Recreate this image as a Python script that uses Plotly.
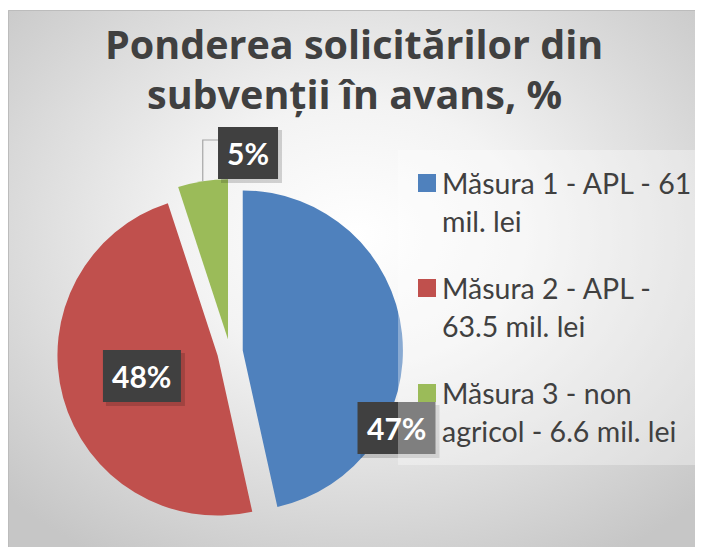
import base64
import math
import plotly.graph_objects as go

# ---------------- data ----------------
legend_lines = [["Măsura 1 - APL - 61", "mil. lei"],
                ["Măsura 2 - APL -", "63.5 mil. lei"],
                ["Măsura 3 - non", "agricol - 6.6 mil. lei"]]
categories = [" ".join(l) for l in legend_lines]
values = [61, 63.5, 6.6]
colors = ["#4F81BD", "#C0504D", "#9BBB59"]
title_lines = ["Ponderea solicitărilor din", "subvenții în avans, %"]

# ---------------- layout constants ----------------
OFF = 8                      # page body margin of the html page
W, H = 703 - OFF, 547 - OFF  # figure size so that it fits the window
PULL = 0.08
FONT = "Lato, 'Open Sans', sans-serif"
TFONT = "'Open Sans', Lato, sans-serif"
TXT = "#404040"

# label placement tweaks (angle offset in degrees, radius factor)
label_place = [(33, 1.075), (0, 0.49), (15.2, 1.17)]


def px(x):  # window pixel -> paper
    return (x - OFF) / W


def py(y):
    return 1 - (y - OFF) / H


DOM_X = [px(57), px(403)]
DOM_Y = [py(525), py(179)]

fig = go.Figure()
fig.add_trace(go.Pie(
    labels=categories, values=values, sort=False, direction="clockwise",
    rotation=0, pull=PULL, marker=dict(colors=colors, line=dict(width=0)),
    textinfo="none", hoverinfo="label+percent", showlegend=False,
    domain=dict(x=DOM_X, y=DOM_Y),
))

# geometry of the pie in window pixels (mirrors plotly's own computation)
cx = OFF + (DOM_X[0] + DOM_X[1]) / 2 * W
cy = OFF + (1 - (DOM_Y[0] + DOM_Y[1]) / 2) * H
R = min((DOM_X[1] - DOM_X[0]) * W, (DOM_Y[1] - DOM_Y[0]) * H) / 2 / (1 + PULL)
total = sum(values)

shapes = []
annotations = []

# background gradient
svg = (
    '<svg xmlns="http://www.w3.org/2000/svg" width="695" height="537" '
    'preserveAspectRatio="none" viewBox="0 0 695 537">'
    '<defs><radialGradient id="g" cx="50%" cy="42%" r="70%">'
    '<stop offset="0" stop-color="#ffffff"/>'
    '<stop offset="0.35" stop-color="#f3f3f3"/>'
    '<stop offset="1" stop-color="#c6c6c6"/>'
    '</radialGradient></defs>'
    '<rect width="695" height="537" fill="url(#g)"/></svg>'
)
src = "data:image/svg+xml;base64," + base64.b64encode(svg.encode()).decode()
images = [dict(source=src, xref="paper", yref="paper", x=px(8), y=py(10),
               sizex=px(703) - px(8), sizey=py(10) - py(547),
               xanchor="left", yanchor="top", sizing="stretch", layer="below")]

shapes.append(dict(type="rect", xref="paper", yref="paper",
                   x0=px(8.5), x1=px(710), y0=py(10.5), y1=py(560),
                   line=dict(color="#bcbcbc", width=1), fillcolor="rgba(0,0,0,0)",
                   layer="below"))

# title lines
for k, t in enumerate(title_lines):
    annotations.append(dict(x=px(354), y=py(44 + 50 * k), xref="paper", yref="paper",
                            text=t, showarrow=False, xanchor="center", yanchor="middle",
                            font=dict(family=TFONT, size=39.5, color=TXT, weight="bold")))

# data labels
cum = 0
for i, v in enumerate(values):
    a0 = cum / total * 360
    cum += v
    a1 = cum / total * 360
    mid = (a0 + a1) / 2
    scx = cx + PULL * R * math.sin(math.radians(mid))
    scy = cy - PULL * R * math.cos(math.radians(mid))
    off, fac = label_place[i]
    ang = math.radians(mid + off)
    lx = scx + fac * R * math.sin(ang)
    ly = scy - fac * R * math.cos(ang)
    txt = f"{round(v / total * 100)}%"
    bw = 18 * len(txt) + 24
    bh = 52
    # shadow
    shapes.append(dict(type="rect", xref="paper", yref="paper",
                       x0=px(lx - bw / 2 + 3), x1=px(lx + bw / 2 + 4),
                       y0=py(ly + bh / 2 + 4), y1=py(ly - bh / 2 + 3),
                       line=dict(width=0), fillcolor="rgba(0,0,0,0.16)", layer="above"))
    shapes.append(dict(type="rect", xref="paper", yref="paper",
                       x0=px(lx - bw / 2), x1=px(lx + bw / 2),
                       y0=py(ly + bh / 2), y1=py(ly - bh / 2),
                       line=dict(width=0), fillcolor="#404040", layer="above"))
    annotations.append(dict(x=px(lx), y=py(ly), xref="paper", yref="paper",
                            text=txt, showarrow=False, xanchor="center", yanchor="middle",
                            font=dict(family=FONT, size=30, color="white", weight="bold")))
    if fac > 1.1:  # outside label -> leader line
        ax = scx + R * math.sin(math.radians(mid))
        ay = scy - R * math.cos(math.radians(mid))
        ytop = ly - bh / 2 + 13
        shapes.append(dict(type="path", xref="paper", yref="paper",
                           path=f"M{px(ax)},{py(ay)} L{px(ax)},{py(ytop)} L{px(lx - bw / 2)},{py(ytop)}",
                           line=dict(color="#a6a6a6", width=1.2), layer="above"))

# legend box (semi-transparent, above the labels)
shapes.append(dict(type="rect", xref="paper", yref="paper",
                   x0=px(398), x1=px(720), y0=py(465), y1=py(150),
                   line=dict(width=0), fillcolor="rgba(255,255,255,0.33)", layer="above"))

# legend items
y0, step, lstep = 183, 105, 38
for i, lines in enumerate(legend_lines):
    yc = y0 + i * step
    shapes.append(dict(type="rect", xref="paper", yref="paper",
                       x0=px(418), x1=px(436), y0=py(yc + 9), y1=py(yc - 9),
                       line=dict(width=0), fillcolor=colors[i], layer="above"))
    for j, ln in enumerate(lines):
        annotations.append(dict(x=px(440), y=py(yc + j * lstep), xref="paper", yref="paper",
                                text=ln, showarrow=False, xanchor="left", yanchor="middle",
                                font=dict(family=FONT, size=28.5, color=TXT)))

fig.update_layout(
    width=W, height=H, margin=dict(l=0, r=0, t=0, b=0),
    paper_bgcolor="white", plot_bgcolor="white",
    shapes=shapes, annotations=annotations, images=images,
    showlegend=False,
)

fig.write_html("out.html")
